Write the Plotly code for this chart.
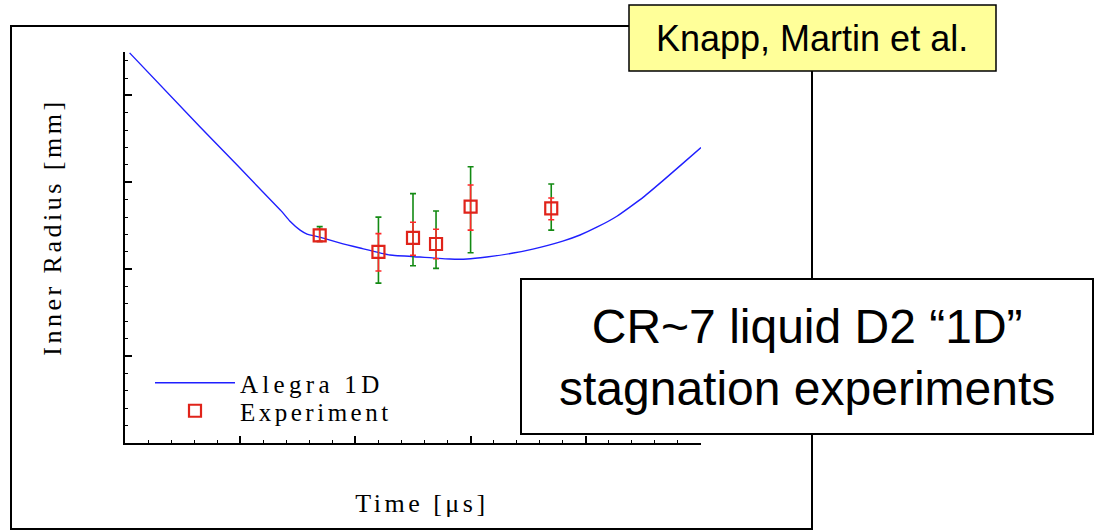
import plotly.graph_objects as go

# Alegra 1D simulation: inner radius vs time
time_sim = [0.04, 0.65, 1.35, 1.43, 1.52, 1.58, 1.69, 1.87, 2.04, 2.30, 2.56, 2.82,
            2.97, 3.14, 3.37, 3.54, 3.80, 3.95, 4.10, 4.27, 4.50, 4.67, 4.84, 5.00]
radius_sim = [4.49, 3.64, 2.68, 2.555, 2.45, 2.405, 2.37, 2.30, 2.244, 2.163, 2.14, 2.117,
              2.117, 2.14, 2.186, 2.232, 2.324, 2.394, 2.486, 2.61, 2.83, 3.02, 3.215, 3.40]

# Experimental measurements
time_exp = [1.69, 2.20, 2.50, 2.70, 3.00, 3.70]
radius_exp = [2.39, 2.20, 2.36, 2.29, 2.72, 2.70]
# inner (red) uncertainty
err_in_plus = [0.07, 0.21, 0.18, 0.17, 0.25, 0.12]
err_in_minus = [0.07, 0.22, 0.20, 0.17, 0.27, 0.13]
# outer (green) uncertainty
err_out_plus = [0.10, 0.40, 0.51, 0.38, 0.46, 0.28]
err_out_minus = [0.07, 0.36, 0.32, 0.28, 0.53, 0.25]

W, H = 1095, 532
L, R, T, B = 125, 701, 52, 443  # plot area in pixels
SERIF = "Liberation Serif"
SANS = "Liberation Sans"


def px(x):
    return (x - L) / (R - L)


def py(y):
    return (B - y) / (B - T)


fig = go.Figure()

fig.add_trace(go.Scatter(
    x=time_sim, y=radius_sim, mode="lines", name="Alegra 1D",
    line=dict(color="#1f1fff", width=1.4, shape="spline", smoothing=0.4),
    legend="legend",
))

fig.add_trace(go.Scatter(
    x=time_exp, y=radius_exp, mode="markers", showlegend=False, hoverinfo="skip",
    marker=dict(size=1, color="rgba(0,0,0,0)"),
    error_y=dict(type="data", symmetric=False, array=err_out_plus, arrayminus=err_out_minus,
                 color="#138a13", thickness=1.6, width=3),
))
fig.add_trace(go.Scatter(
    x=time_exp, y=radius_exp, mode="markers", showlegend=False, hoverinfo="skip",
    marker=dict(size=1, color="rgba(0,0,0,0)"),
    error_y=dict(type="data", symmetric=False, array=err_in_plus, arrayminus=err_in_minus,
                 color="#ff2a2a", thickness=1.6, width=3),
))
fig.add_trace(go.Scatter(
    x=time_exp, y=radius_exp, mode="markers", name="Experiment",
    marker=dict(symbol="square-open", size=12, color="#e0231a", line=dict(width=2.2)),
    legend="legend2",
))

axis_common = dict(
    showline=True, linecolor="black", linewidth=2, mirror=False,
    showgrid=False, zeroline=False, showticklabels=False,
    ticks="inside", ticklen=7, tickwidth=1.5, tickcolor="black",
    minor=dict(ticks="inside", ticklen=3, tickwidth=1, tickcolor="black", showgrid=False),
)

fig.update_xaxes(range=[0, 5], dtick=1, tick0=0, **axis_common)
fig.update_xaxes(minor_dtick=0.2)
fig.update_yaxes(range=[0, 4.5], dtick=1, tick0=0, **axis_common)
fig.update_yaxes(minor_dtick=0.2)

legend_font = dict(family=SERIF, size=25, color="black")
fig.update_layout(
    width=W, height=H,
    margin=dict(l=L, r=W - R, t=T, b=H - B, pad=0, autoexpand=False),
    paper_bgcolor="white", plot_bgcolor="white",
    legend=dict(xref="container", yref="container", x=150 / W, y=1 - 383 / H,
                xanchor="left", yanchor="middle", font=legend_font, itemwidth=80,
                bgcolor="rgba(0,0,0,0)", borderwidth=0),
    legend2=dict(xref="container", yref="container", x=150 / W, y=1 - 411 / H,
                 xanchor="left", yanchor="middle", font=legend_font, itemwidth=80,
                 bgcolor="rgba(0,0,0,0)", borderwidth=0),
)

shapes = [
    # outer frame
    dict(type="rect", xref="paper", yref="paper", x0=px(11), x1=px(812), y0=py(529), y1=py(26),
         line=dict(color="black", width=2), fillcolor="rgba(0,0,0,0)"),
    # author box
    dict(type="rect", xref="paper", yref="paper", x0=px(629), x1=px(996), y0=py(71), y1=py(5),
         line=dict(color="black", width=1.5), fillcolor="#ffff99"),
    # description box
    dict(type="rect", xref="paper", yref="paper", x0=px(521), x1=px(1093), y0=py(434), y1=py(279),
         line=dict(color="black", width=2), fillcolor="white"),
]
fig.update_layout(shapes=shapes)

annotations = [
    dict(text="Inner Radius [mm]", xref="paper", yref="paper", x=px(52), y=py(227),
         textangle=-90, showarrow=False, xanchor="center", yanchor="middle",
         font=dict(family=SERIF, size=26, color="black")),
    dict(text="Time [μs]", xref="paper", yref="paper", x=px(422), y=py(503),
         showarrow=False, xanchor="center", yanchor="middle",
         font=dict(family=SERIF, size=26, color="black")),
    dict(text="Knapp, Martin et al.", xref="paper", yref="paper", x=px(812), y=py(39),
         showarrow=False, xanchor="center", yanchor="middle",
         font=dict(family=SANS, size=36, color="black")),
    dict(text="CR~7 liquid D2 “1D”<br>stagnation experiments", xref="paper", yref="paper",
         x=px(807), y=py(357), showarrow=False, xanchor="center", yanchor="middle",
         font=dict(family=SANS, size=48, color="black")),
]
fig.update_layout(annotations=annotations)

# widen the tracking of the serif labels (axis titles and legend)
spacing_js = """
var gd = document.getElementById('{plot_id}');
function spaceOut() {
  gd.querySelectorAll('text').forEach(function (t) {
    var ff = t.style.fontFamily || '';
    if (ff.indexOf('Liberation Serif') >= 0) {
      var isLegend = t.classList.contains('legendtext');
      t.setAttribute('letter-spacing', isLegend ? '4.3px' : '3.5px');
    }
  });
  // let the wider legend labels extend past each legend's own clip box
  gd.querySelectorAll('g.scrollbox').forEach(function (s) {
    s.removeAttribute('clip-path');
  });
}
spaceOut();
if (gd.on) { gd.on('plotly_afterplot', spaceOut); }
setTimeout(spaceOut, 30);
"""

fig.write_html("out.html", post_script=spacing_js)
